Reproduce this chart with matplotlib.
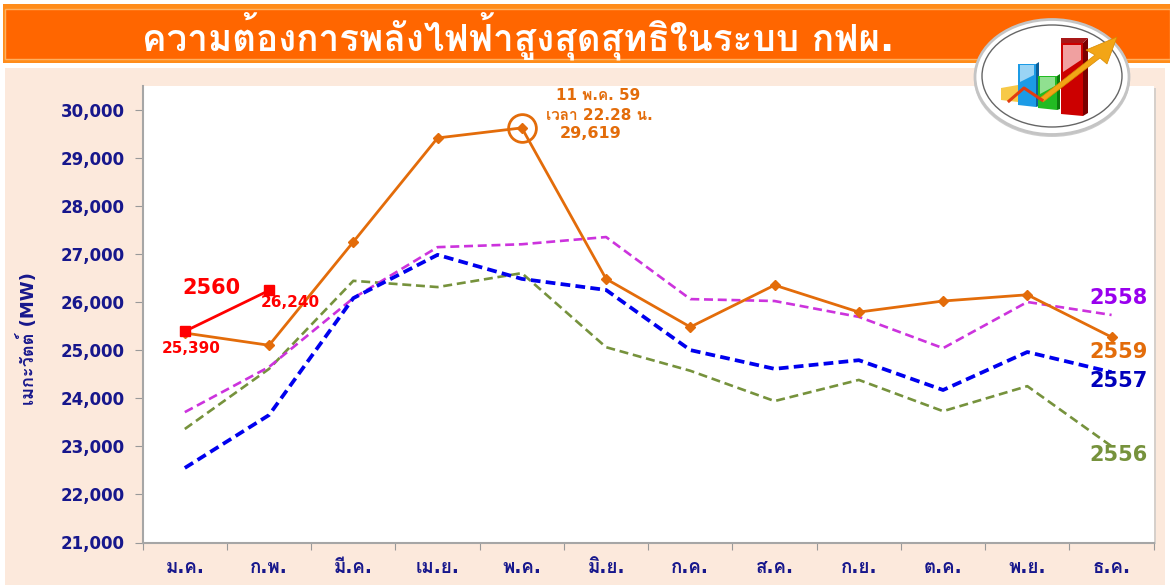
#!/usr/bin/env python
"""Peak power demand in the EGAT system, by month and year."""

import matplotlib

matplotlib.use("Agg")
import matplotlib.pyplot as plt
from matplotlib import font_manager as fm
from matplotlib.patches import Ellipse, Polygon, Rectangle
from matplotlib.ticker import FuncFormatter


MONTHS = ["ม.ค.", "ก.พ.", "มี.ค.", "เม.ย.", "พ.ค.", "มิ.ย.", "ก.ค.", "ส.ค.", "ก.ย.", "ต.ค.", "พ.ย.", "ธ.ค."]
Y_TICKS = [21000, 22000, 23000, 24000, 25000, 26000, 27000, 28000, 29000, 30000]

DEMAND_2556 = [23360, 24610, 26440, 26310, 26600, 25060, 24570, 23940, 24380, 23730, 24250, 23000]
DEMAND_2557 = [22550, 23650, 26080, 26980, 26480, 26250, 25000, 24610, 24790, 24170, 24960, 24540]
DEMAND_2558 = [23710, 24650, 26080, 27140, 27200, 27350, 26060, 26020, 25690, 25040, 26000, 25730]
DEMAND_2559 = [25355, 25100, 27250, 29410, 29619, 26480, 25480, 26350, 25790, 26020, 26150, 25270]
DEMAND_2560 = [25390, 26240]

TITLE = "ความต้องการพลังไฟฟ้าสูงสุดสุทธิในระบบ กฟผ."
Y_LABEL = "เมกะวัตต์ (MW)"
PEAK_DATE = "11 พ.ค. 59"
PEAK_TIME = "เวลา 22.28 น."
PEAK_VALUE = "29,619"

W, H = 1170, 585
NAVY = "#17178c"
ORANGE = "#e36c0a"


def thai_families():
    # whichever installed font actually carries Thai glyphs
    found = []
    for entry in fm.fontManager.ttflist:
        try:
            if 0x0E01 in fm.get_font(entry.fname).get_charmap() and entry.name not in found:
                found.append(entry.name)
        except Exception:
            pass
    return found


plt.rcParams["font.family"] = ["DejaVu Sans"] + thai_families()


def px_axes(fig, zorder):
    ax = fig.add_axes([0, 0, 1, 1], zorder=zorder)
    ax.set_xlim(0, W)
    ax.set_ylim(H, 0)
    ax.axis("off")
    return ax


def draw_frame(bg):
    bg.add_patch(Rectangle((5, 68), 1160, 517, fc="#fce9dc", ec="none"))
    bg.add_patch(Rectangle((3, 4), 1167, 59, fc="#ff8c1a", ec="none"))
    bg.add_patch(Rectangle((5, 9), 1165, 50, fc="#ff6600", ec="#ffb060", lw=1))
    bg.add_patch(Rectangle((142, 86), 1012, 457, fc="white", ec="none"))
    bg.add_patch(Rectangle((1154, 88), 2, 456, fc="#d6d0cb", ec="none"))
    bg.text(518, 36, TITLE, color="white", fontsize=26.5, fontweight="bold", ha="center", va="center")


def draw_icon(fg):
    fg.add_patch(Ellipse((1052, 79), 156, 116, fc="#9a9a9a", ec="none", alpha=0.5))
    fg.add_patch(Ellipse((1052, 77), 154, 115, fc="white", ec="#c4c4c4", lw=2))
    fg.add_patch(Ellipse((1052, 76), 140, 102, fc="white", ec="#666666", lw=1.0))
    # yellow bar
    fg.add_patch(Polygon([(1001, 88), (1018, 85), (1018, 102), (1001, 100)], fc="#f7c948", ec="none"))
    # blue bar
    fg.add_patch(Polygon([(1018, 64), (1036, 64), (1036, 107), (1018, 105)], fc="#1c9be6", ec="none"))
    fg.add_patch(Polygon([(1036, 64), (1039, 62), (1039, 106), (1036, 107)], fc="#0b5f9a", ec="none"))
    fg.add_patch(Polygon([(1020, 65), (1034, 65), (1034, 75), (1020, 82)], fc="#9ad4f5", ec="none"))
    # green bar
    fg.add_patch(Polygon([(1038, 76), (1057, 76), (1057, 110), (1038, 108)], fc="#22bb22", ec="none"))
    fg.add_patch(Polygon([(1057, 76), (1060, 74), (1060, 109), (1057, 110)], fc="#0d7a0d", ec="none"))
    fg.add_patch(Polygon([(1040, 77), (1055, 77), (1055, 86), (1040, 94)], fc="#90e090", ec="none"))
    # red bar
    fg.add_patch(Polygon([(1061, 43), (1083, 43), (1083, 116), (1061, 114)], fc="#cc0000", ec="none"))
    fg.add_patch(Polygon([(1083, 43), (1088, 38), (1088, 113), (1083, 116)], fc="#7a0000", ec="none"))
    fg.add_patch(Polygon([(1061, 38), (1088, 38), (1083, 43), (1061, 43)], fc="#a81818", ec="none"))
    fg.add_patch(Polygon([(1063, 45), (1081, 45), (1081, 60), (1063, 72)], fc="#f0a0a0", ec="none"))
    # rising line and arrow
    fg.plot([1009, 1024, 1042], [101, 88, 100], color="#e23b10", lw=2.2)
    fg.add_patch(Polygon([(1040, 98), (1095, 55), (1086, 50), (1117, 37), (1107, 64), (1100, 58),
                          (1043, 102)], fc="#f2a516", ec="#d88a00", lw=0.5))


def main():
    fig = plt.figure(figsize=(W / 100, H / 100), dpi=100, facecolor="white")
    bg = px_axes(fig, 0)
    draw_frame(bg)

    ax = fig.add_axes([142.7 / W, 1 - 542.5 / H, 1011 / W, 456.5 / H], zorder=1)
    ax.patch.set_alpha(0)
    xs = [i + 0.5 for i in range(len(MONTHS))]
    ax.plot(xs, DEMAND_2556, color="#76923c", lw=1.9, dashes=(3.4, 1.8))
    ax.plot(xs, DEMAND_2558, color="#cc33dd", lw=1.9, dashes=(3.4, 1.8))
    ax.plot(xs, DEMAND_2557, color="#0000ee", lw=2.7, dashes=(2.6, 1.4))
    ax.plot(xs, DEMAND_2559, color=ORANGE, lw=2.0, marker="D", ms=5.5)
    ax.plot(xs[:len(DEMAND_2560)], DEMAND_2560, color="#ff0000", lw=2.0, marker="s", ms=7)

    ax.set_xlim(0, 12)
    ax.set_ylim(21000, 30490)
    ax.set_xticks(range(13))
    ax.set_xticklabels([])
    ax.set_xticks(xs, minor=True)
    ax.set_xticklabels(MONTHS, minor=True, color=NAVY, fontsize=13.5, fontweight="bold")
    ax.tick_params(axis="x", which="minor", length=0, pad=11)
    ax.tick_params(axis="x", which="major", length=5, color="#999999")
    ax.set_yticks(Y_TICKS)
    ax.yaxis.set_major_formatter(FuncFormatter(lambda v, _: f"{int(v):,}"))
    ax.tick_params(axis="y", length=6, color="#999999", labelcolor=NAVY, labelsize=12, pad=7)
    for lab in ax.get_yticklabels():
        lab.set_fontweight("bold")
    for name in ("top", "right"):
        ax.spines[name].set_visible(False)
    for name in ("left", "bottom"):
        ax.spines[name].set_color("#a6a6a6")
        ax.spines[name].set_linewidth(1.5)

    # peak marker and its note
    ax.plot(xs[4], DEMAND_2559[4], marker="o", ms=20, mfc="none", mec=ORANGE, mew=2)
    bg.text(598, 96, PEAK_DATE, color=ORANGE, fontsize=11, fontweight="bold", ha="center", va="center", zorder=5)
    bg.text(599, 115, PEAK_TIME, color=ORANGE, fontsize=11, fontweight="bold", ha="center", va="center", zorder=5)
    bg.text(591, 134, PEAK_VALUE, color=ORANGE, fontsize=11.5, fontweight="bold", ha="center", va="center", zorder=5)

    ax.text(0.82, 26300, "2560", color="#ff0000", fontsize=15, fontweight="bold", ha="center", va="center")
    ax.text(0.58, 25040, f"{DEMAND_2560[0]:,}", color="#ff0000", fontsize=11, fontweight="bold", ha="center", va="center")
    ax.text(1.75, 25990, f"{DEMAND_2560[1]:,}", color="#ff0000", fontsize=11, fontweight="bold", ha="center", va="center")

    ax.text(11.58, 26090, "2558", color="#9900ee", fontsize=15, fontweight="bold", ha="center", va="center")
    ax.text(11.58, 24950, "2559", color=ORANGE, fontsize=15, fontweight="bold", ha="center", va="center")
    ax.text(11.58, 24350, "2557", color="#0000bb", fontsize=15, fontweight="bold", ha="center", va="center")
    ax.text(11.58, 22810, "2556", color="#76923c", fontsize=15, fontweight="bold", ha="center", va="center")

    bg.text(28, 339, Y_LABEL, color=NAVY, fontsize=13, fontweight="bold", rotation=90, ha="center", va="center")

    draw_icon(px_axes(fig, 2))

    fig.savefig("out.png", dpi=100)
    plt.close(fig)


if __name__ == "__main__":
    main()
